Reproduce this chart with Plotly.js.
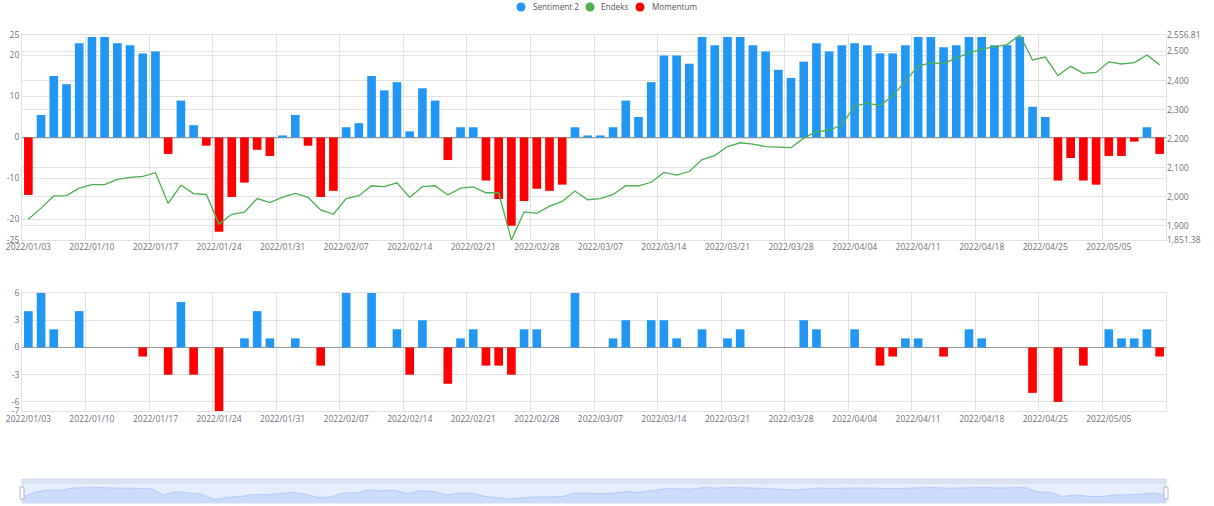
<!DOCTYPE html>
<html><head><meta charset="utf-8">
<script src="https://cdn.plot.ly/plotly-3.0.1.min.js"></script>
<style>html,body{margin:0;padding:0;background:#fff}#chart{width:1214px;height:506px}</style>
</head><body><div id="chart"></div>
<script>
// ---- data ----
const dates = [
 "2022/01/03","2022/01/04","2022/01/05","2022/01/06","2022/01/07",
 "2022/01/10","2022/01/11","2022/01/12","2022/01/13","2022/01/14",
 "2022/01/17","2022/01/18","2022/01/19","2022/01/20","2022/01/21",
 "2022/01/24","2022/01/25","2022/01/26","2022/01/27","2022/01/28",
 "2022/01/31","2022/02/01","2022/02/02","2022/02/03","2022/02/04",
 "2022/02/07","2022/02/08","2022/02/09","2022/02/10","2022/02/11",
 "2022/02/14","2022/02/15","2022/02/16","2022/02/17","2022/02/18",
 "2022/02/21","2022/02/22","2022/02/23","2022/02/24","2022/02/25",
 "2022/02/28","2022/03/01","2022/03/02","2022/03/03","2022/03/04",
 "2022/03/07","2022/03/08","2022/03/09","2022/03/10","2022/03/11",
 "2022/03/14","2022/03/15","2022/03/16","2022/03/17","2022/03/18",
 "2022/03/21","2022/03/22","2022/03/23","2022/03/24","2022/03/25",
 "2022/03/28","2022/03/29","2022/03/30","2022/03/31","2022/04/01",
 "2022/04/04","2022/04/05","2022/04/06","2022/04/07","2022/04/08",
 "2022/04/11","2022/04/12","2022/04/13","2022/04/14","2022/04/15",
 "2022/04/18","2022/04/19","2022/04/20","2022/04/21","2022/04/22",
 "2022/04/25","2022/04/26","2022/04/27","2022/04/28","2022/04/29",
 "2022/05/05","2022/05/06","2022/05/09","2022/05/10","2022/05/11"
];
const sentiment = [
 -14, 5.5, 15, 13, 23, 24.5, 24.5, 23, 22.5, 20.5,
 21, -4, 9, 3, -2, -23, -14.5, -11, -3, -4.5,
 0.5, 5.5, -2, -14.5, -13, 2.5, 3.5, 15, 11.5, 13.5,
 1.5, 12, 9, -5.5, 2.5, 2.5, -10.5, -15, -21.5, -15.5,
 -12.5, -13, -11.5, 2.5, 0.5, 0.5, 2.5, 9, 5, 13.5,
 20, 20, 18, 24.5, 22.5, 24.5, 24.5, 22.5, 21, 16.5,
 14.5, 18.5, 23, 21, 22.5, 23, 22.5, 20.5, 20.5, 22.5,
 24.5, 24.5, 22, 22.5, 24.5, 24.5, 22.5, 22.5, 24.5, 7.5,
 5, -10.5, -5, -10.5, -11.5, -4.5, -4.5, -1, 2.5, -4
];
const endeks = [
 1923, 1961, 2003, 2004, 2030, 2042, 2042, 2060, 2067, 2070,
 2083, 1977, 2040, 2011, 2008, 1906, 1940, 1947, 1994, 1980,
 1999, 2012, 1998, 1955, 1940, 1994, 2004, 2038, 2035, 2048,
 1998, 2035, 2038, 2006, 2030, 2034, 2014, 2014, 1851.38, 1948,
 1943, 1968, 1984, 2020, 1990, 1994, 2008, 2038, 2038, 2050,
 2084, 2075, 2087, 2128, 2142, 2173, 2186, 2181, 2173, 2172,
 2169, 2202, 2224, 2229, 2248, 2312, 2322, 2314, 2348, 2398,
 2450, 2461, 2458, 2477, 2495, 2508, 2516, 2524, 2556.81, 2471,
 2481, 2417, 2449, 2425, 2428, 2464, 2457, 2462, 2488, 2454
];
const momentum = [
 4, 6, 2, 0, 4, 0, 0, 0, 0, -1,
 0, -3, 5, -3, 0, -7, 0, 1, 4, 1,
 0, 1, 0, -2, 0, 6, 0, 6, 0, 2,
 -3, 3, 0, -4, 1, 2, -2, -2, -3, 2,
 2, 0, 0, 6, 0, 0, 1, 3, 0, 3,
 3, 1, 0, 2, 0, 1, 2, 0, 0, 0,
 0, 3, 2, 0, 0, 2, 0, -2, -1, 1,
 1, 0, -1, 0, 2, 1, 0, 0, 0, -5,
 0, -6, 0, -2, 0, 2, 1, 1, 2, -1
];
const seriesNames = ["Sentiment 2", "Endeks", "Momentum"];
const leftTicks = [-25, -20, -10, 0, 10, 20, 25];
const rightMidTicks = [1900, 2000, 2100, 2200, 2300, 2400, 2500];
const momTicks = [-7, -6, -3, 0, 3, 6];

// ---- styling ----
const BLUE = '#2196f3', RED = '#ff0000', GREEN = '#4caf50';
const GRID = '#e2e2e2', TXT = '#6e7079';
const FONT = 'Open Sans, sans-serif';
const colorOf = v => v < 0 ? RED : BLUE;
const seriesColors = [BLUE, GREEN, RED];

const eMin = Math.min(...endeks), eMax = Math.max(...endeks);
const rightTicks = [eMin, ...rightMidTicks, eMax];
const fmt = v => v.toLocaleString('en-US', {maximumFractionDigits: 2});
const sMin = Math.min(...sentiment), sMax = Math.max(...sentiment);
const pad = (sMax - sMin) * 0.3;
const lo = sMin - pad, hi = sMax + pad;
const n = dates.length;

// pixel helpers for domains (plot area: x 22 -> 1166, y 35 -> 503)
const L = 22, R = 1166, W = R - L;
const T = 35, B = 503, H = B - T;
const py = p => (B - p) / H;
const px = p => (p - L) / W;

const tickfont = {family: FONT, size: 8.5, color: TXT};

const traces = [
  {type: 'bar', x: dates, y: sentiment, xaxis: 'x', yaxis: 'y', name: seriesNames[0],
   marker: {color: sentiment.map(colorOf)}, hoverinfo: 'skip'},
  {type: 'scatter', mode: 'lines', x: dates, y: endeks, xaxis: 'x', yaxis: 'y2', name: seriesNames[1],
   line: {color: GREEN, width: 1.3}, hoverinfo: 'skip'},
  {type: 'bar', x: dates, y: momentum, xaxis: 'x2', yaxis: 'y3', name: seriesNames[2],
   marker: {color: momentum.map(colorOf)}, hoverinfo: 'skip'},
  // slider data shadow
  {type: 'scatter', mode: 'lines', x: dates, y: dates.map(() => lo), xaxis: 'x3', yaxis: 'y4',
   line: {width: 0}, hoverinfo: 'skip'},
  {type: 'scatter', mode: 'lines', x: dates, y: sentiment, xaxis: 'x3', yaxis: 'y4',
   line: {color: '#8fb0f7', width: 0.5}, fill: 'tonexty', fillcolor: 'rgba(143,176,247,0.3)',
   hoverinfo: 'skip'}
];

const catAxis = (anchor) => ({
  anchor: anchor, domain: [0, 1], type: 'category', range: [-0.5, n - 0.5],
  tickmode: 'linear', tick0: 0, dtick: 5, tickson: 'boundaries', tickangle: 0,
  showgrid: true, gridcolor: GRID, gridwidth: 1, ticks: '', tickfont: tickfont,
  showline: true, mirror: true, linecolor: GRID, linewidth: 1, zeroline: false, fixedrange: true
});

// custom legend (circle icon + label), positioned like the reference
const legendIconX = [521, 590, 640];
const legendTextX = [532, 600, 651];
const legendShapes = seriesNames.map((nm, i) => ({
  type: 'circle', xref: 'paper', yref: 'paper',
  xsizemode: 'pixel', ysizemode: 'pixel', xanchor: px(legendIconX[i]), yanchor: py(7),
  x0: -4.5, x1: 4.5, y0: -4.5, y1: 4.5, fillcolor: seriesColors[i], line: {width: 0}
}));
const legendAnn = seriesNames.map((nm, i) => ({
  text: nm, xref: 'paper', yref: 'paper', x: px(legendTextX[i]), y: py(7),
  xanchor: 'left', yanchor: 'middle', showarrow: false, borderpad: 0,
  font: {family: FONT, size: 8.2, color: '#555'}
}));

const layout = {
  width: 1214, height: 506,
  margin: {l: L, r: 1214 - R, t: T, b: 506 - B, autoexpand: false},
  paper_bgcolor: '#fff', plot_bgcolor: 'rgba(0,0,0,0)',
  font: {family: FONT, size: 9, color: TXT},
  bargap: 0.32, hovermode: false,
  showlegend: false,
  xaxis: Object.assign(catAxis('y'), {ticklabelstandoff: -1}),
  yaxis: {domain: [py(240), 1], range: [-25, 25], tickmode: 'array', tickvals: leftTicks,
          ticktext: leftTicks.map(String), showgrid: true, gridcolor: GRID, ticks: '',
          tickfont: tickfont, zeroline: true, zerolinecolor: '#9a9a9a', zerolinewidth: 1,
          showline: true, mirror: true, linecolor: GRID, fixedrange: true},
  yaxis2: {overlaying: 'y', anchor: 'x', side: 'right', range: [eMin, eMax], tickmode: 'array',
           tickvals: rightTicks, ticktext: rightTicks.map(fmt), showgrid: true, gridcolor: GRID,
           ticks: '', tickfont: tickfont, zeroline: false, showline: false, fixedrange: true},
  xaxis2: catAxis('y3'),
  yaxis3: {domain: [py(411), py(293)], range: [-7, 6], tickmode: 'array', tickvals: momTicks,
           ticktext: momTicks.map(String), showgrid: true, gridcolor: GRID, ticks: '',
           tickfont: tickfont, zeroline: true, zerolinecolor: '#9a9a9a', zerolinewidth: 1,
           showline: true, mirror: true, linecolor: GRID, fixedrange: true},
  xaxis3: {anchor: 'y4', domain: [0, 1], type: 'category', range: [0, n - 1], visible: false, fixedrange: true},
  yaxis4: {domain: [0, py(484)], range: [lo, hi], visible: false, fixedrange: true},
  annotations: legendAnn,
  shapes: [
    {type: 'rect', xref: 'paper', yref: 'paper', x0: 0, x1: 1, y0: 0, y1: py(484),
     fillcolor: 'rgba(135,175,255,0.2)', line: {width: 0}, layer: 'below'},
    {type: 'rect', xref: 'paper', yref: 'paper', x0: 0, x1: 1, y0: py(484), y1: py(479),
     fillcolor: '#dbe3f2', line: {width: 0}, layer: 'below'},
    {type: 'rect', xref: 'paper', yref: 'paper', x0: 0, x1: 1, y0: 0, y1: py(479),
     fillcolor: 'rgba(0,0,0,0)', line: {color: '#d2dbee', width: 1}},
    {type: 'rect', xref: 'paper', yref: 'paper', xsizemode: 'pixel', xanchor: 0, x0: -2, x1: 2,
     y0: py(499), y1: py(487), fillcolor: '#ffffff', line: {color: '#acb8d1', width: 1}},
    {type: 'rect', xref: 'paper', yref: 'paper', xsizemode: 'pixel', xanchor: 1, x0: -2, x1: 2,
     y0: py(499), y1: py(487), fillcolor: '#ffffff', line: {color: '#acb8d1', width: 1}}
  ].concat(legendShapes)
};

Plotly.newPlot('chart', traces, layout, {displayModeBar: false, staticPlot: true});
</script>
</body></html>
